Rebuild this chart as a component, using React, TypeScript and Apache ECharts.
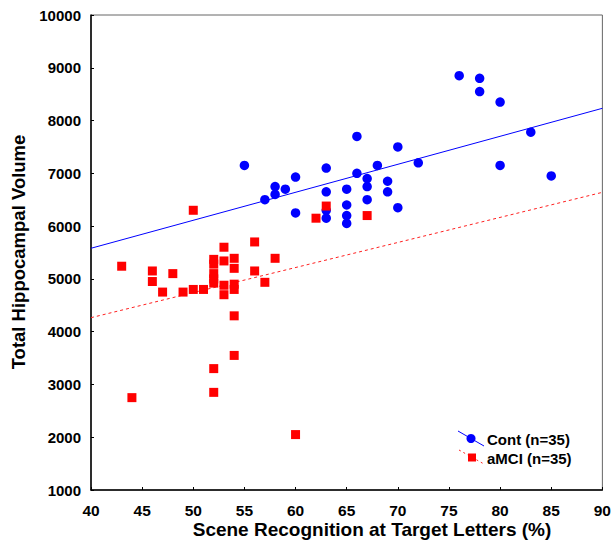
import React, { useEffect, useRef } from "react";
import * as echarts from "echarts";

const contX = [55, 57, 58, 58, 59, 60, 60, 63, 63, 63, 63, 65, 65, 65, 65, 66, 66, 67, 67, 67, 68, 69, 69, 70, 70, 72, 76, 78, 78, 80, 80, 83, 85];
const contY = [7150, 6500, 6750, 6600, 6700, 6930, 6250, 7100, 6650, 6300, 6150, 6700, 6400, 6200, 6050, 7700, 7000, 6900, 6750, 6500, 7150, 6850, 6650, 7500, 6350, 7200, 8850, 8800, 8550, 8350, 7150, 7780, 6950];

const mciX = [43, 44, 46, 46, 47, 48, 49, 50, 50, 51, 52, 52, 52, 52, 52, 52, 52, 53, 53, 53, 53, 54, 54, 54, 54, 54, 54, 56, 56, 57, 58, 60, 62, 63, 67];
const mciY = [5240, 2750, 5150, 4950, 4750, 5100, 4750, 6300, 4800, 4800, 5370, 5280, 5100, 5000, 4920, 3300, 2850, 5600, 5340, 4880, 4700, 5390, 5200, 4900, 4800, 4300, 3550, 5700, 5150, 4935, 5390, 2050, 6150, 6380, 6200];

const contFitX = [40, 90];
const contFitY = [5580, 8232];
const mciFitX = [40, 90];
const mciFitY = [4265, 6640];

const xTicks = { min: 40, max: 90, interval: 5 };
const yTicks = { min: 1000, max: 10000, interval: 1000 };

const legendLabels = ["Cont (n=35)", "aMCI (n=35)"];
const xTitle = "Scene Recognition at Target Letters (%)";
const yTitle = "Total Hippocampal Volume";

const FONT = "'Liberation Sans', Arial, sans-serif";

export default function App() {
  const ref = useRef<HTMLDivElement>(null);
  useEffect(() => {
    if (!ref.current) return;
    const chart = echarts.init(ref.current, null, { renderer: "svg" });
    const zip = (xs: number[], ys: number[]) => xs.map((x, i) => [x, ys[i]]);
    chart.setOption({
      animation: false,
      backgroundColor: "#ffffff",
      grid: {
        left: 91,
        top: 15,
        right: 9,
        bottom: 59,
        show: true,
        borderColor: "#666666",
        borderWidth: 1,
      },
      xAxis: {
        type: "value",
        min: xTicks.min,
        max: xTicks.max,
        interval: xTicks.interval,
        splitLine: { show: false },
        axisLine: { show: true, onZero: false, lineStyle: { color: "#000", width: 1.5 } },
        axisTick: { show: true, inside: true, length: 3, lineStyle: { color: "#000" } },
        axisLabel: {
          color: "#000",
          fontFamily: FONT,
          fontWeight: "bold",
          fontSize: 15.5,
          margin: 12,
          formatter: (v: number) => String(v),
        },
      },
      yAxis: {
        type: "value",
        min: yTicks.min,
        max: yTicks.max,
        interval: yTicks.interval,
        splitLine: { show: false },
        axisLine: { show: true, onZero: false, lineStyle: { color: "#000", width: 1.5 } },
        axisTick: { show: true, inside: true, length: 3, lineStyle: { color: "#000" } },
        axisLabel: {
          color: "#000",
          fontFamily: FONT,
          fontWeight: "bold",
          fontSize: 15,
          margin: 10,
          formatter: (v: number) => String(v),
        },
      },
      series: [
        {
          type: "line",
          data: zip(contFitX, contFitY),
          symbol: "none",
          lineStyle: { color: "#0000ff", width: 1 },
          z: 1,
        },
        {
          type: "line",
          data: zip(mciFitX, mciFitY),
          symbol: "none",
          lineStyle: { color: "#ff2020", width: 1, type: [3, 3] },
          z: 1,
        },
        {
          type: "scatter",
          data: zip(contX, contY),
          symbol: "circle",
          symbolSize: 9.5,
          itemStyle: { color: "#0000ff", opacity: 1 },
          z: 2,
        },
        {
          type: "scatter",
          data: zip(mciX, mciY),
          symbol: "rect",
          symbolSize: 9,
          itemStyle: { color: "#ff0000", opacity: 1 },
          z: 3,
        },
      ],
      graphic: [
        {
          type: "text",
          x: 18,
          y: 252,
          rotation: Math.PI / 2,
          style: {
            text: yTitle,
            font: `bold 18.5px ${FONT}`,
            fill: "#000",
            align: "center",
            verticalAlign: "middle",
          },
        },
        {
          type: "text",
          x: 372,
          y: 529,
          style: {
            text: xTitle,
            font: `bold 19px ${FONT}`,
            fill: "#000",
            align: "center",
            verticalAlign: "middle",
          },
        },
        {
          type: "line",
          shape: { x1: 458, y1: 431, x2: 484, y2: 446 },
          style: { stroke: "#0000ff", lineWidth: 1 },
        },
        {
          type: "circle",
          shape: { cx: 471, cy: 438.5, r: 4.5 },
          style: { fill: "#0000ff" },
        },
        {
          type: "text",
          x: 487,
          y: 439,
          style: {
            text: legendLabels[0],
            font: `bold 15px ${FONT}`,
            fill: "#000",
            align: "left",
            verticalAlign: "middle",
          },
        },
        {
          type: "line",
          shape: { x1: 459, y1: 450, x2: 484, y2: 464 },
          style: { stroke: "#ff2020", lineWidth: 1, lineDash: [2, 3] },
        },
        {
          type: "rect",
          shape: { x: 468, y: 453.5, width: 8, height: 8 },
          style: { fill: "#ff0000" },
        },
        {
          type: "text",
          x: 487,
          y: 458,
          style: {
            text: legendLabels[1],
            font: `bold 15px ${FONT}`,
            fill: "#000",
            align: "left",
            verticalAlign: "middle",
          },
        },
      ],
    });
    return () => chart.dispose();
  }, []);
  return <div ref={ref} style={{ width: 614, height: 549, position: "absolute", left: 0, top: 0 }} />;
}
